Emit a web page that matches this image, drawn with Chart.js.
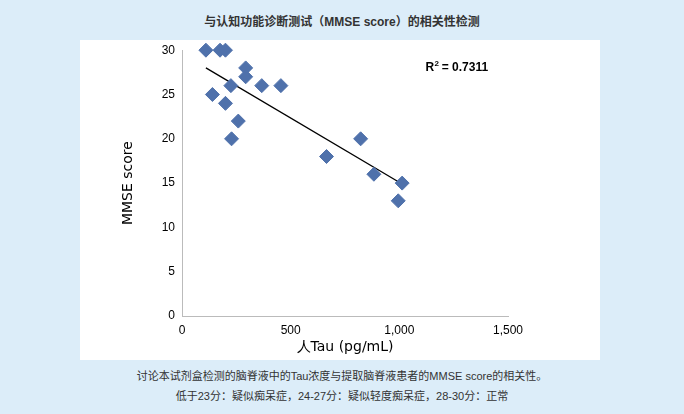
<!DOCTYPE html><html><head><meta charset="utf-8">
<script src="https://cdn.jsdelivr.net/npm/chart.js@4"></script>
<style>
body{margin:0;width:684px;height:414px;background:#dcedf9;font-family:"Liberation Sans","Noto Sans CJK SC",sans-serif;position:relative;overflow:hidden}
#title{position:absolute;top:12px;left:0;width:684px;text-align:center;font-size:12px;font-weight:bold;color:#333}
#panel{position:absolute;left:80px;top:40px;width:520px;height:320px;background:#fff}
#cap{position:absolute;top:366px;left:0;width:684px;text-align:center;font-size:11px;color:#333;line-height:20px}
</style></head><body>
<div id="title">与认知功能诊断测试（MMSE score）的相关性检测</div>
<div id="panel"><canvas id="c" width="520" height="320"></canvas></div>
<div id="cap">讨论本试剂盒检测的脑脊液中的Tau浓度与提取脑脊液患者的MMSE score的相关性。<br>低于23分：疑似痴呆症，24-27分：疑似轻度痴呆症，28-30分：正常</div>
<script>
const tauValues=[110,175,200,293,293,225,367,455,140,200,259,228,665,822,883,1013,995];
const mmseValues=[30,30,30,28,27,26,26,26,25,24,22,20,18,20,16,15,13];
const trendX=[110,1013];
const trendY=[28.0,14.9];
const rSquared="0.7311";
const xTicks=[0,500,1000,1500];
const yTicks=[0,5,10,15,20,25,30];
const pts=tauValues.map((x,i)=>({x,y:mmseValues[i]}));
const tr=trendX.map((x,i)=>({x,y:trendY[i]}));
const r2={id:'r2',afterDraw(c){const g=c.ctx;g.save();g.fillStyle='#000';g.font='bold 12px "Liberation Sans"';
const x=c.scales.x.getPixelForValue(1120),y=c.scales.y.getPixelForValue(27.6);
g.fillText('R',x,y);g.font='bold 8px "Liberation Sans"';g.fillText('2',x+9,y-5);g.font='bold 12px "Liberation Sans"';g.fillText(' = '+rSquared,x+13,y);g.restore();}};
new Chart(document.getElementById('c'),{type:'scatter',data:{datasets:[
{data:pts,clip:false,pointStyle:'rectRot',pointRadius:7,pointHoverRadius:7,backgroundColor:'#4f71ab',borderColor:'#4f71ab'},
{type:'line',data:tr,clip:false,borderColor:'#000',borderWidth:1.3,pointRadius:0,fill:false}]},
options:{responsive:false,animation:false,layout:{padding:{left:36,right:92,top:0,bottom:0}},
plugins:{legend:{display:false},tooltip:{enabled:false}},
scales:{x:{type:'linear',min:0,max:1500,afterBuildTicks(s){s.ticks=xTicks.map(v=>({value:v}))},
grid:{display:false,drawTicks:true,tickLength:4,color:'#bbb'},border:{color:'#bbb'},
ticks:{color:'#000',font:{size:12,family:'Liberation Sans'},callback:v=>v.toLocaleString('en-US')},
title:{display:true,text:'人Tau (pg/mL)',color:'#000',font:{size:14,family:'DejaVu Sans'},padding:{top:4}},
afterFit(s){s.height=44}},
y:{min:0,max:30,afterBuildTicks(s){s.ticks=yTicks.map(v=>({value:v}))},
grid:{display:false,tickLength:4,color:'#bbb'},border:{color:'#bbb'},
ticks:{color:'#000',font:{size:12,family:'Liberation Sans'}},
title:{display:true,text:'MMSE score',color:'#000',font:{size:14,family:'DejaVu Sans'}},
afterFit(s){s.width=66}}}},plugins:[r2]});
</script></body></html>
